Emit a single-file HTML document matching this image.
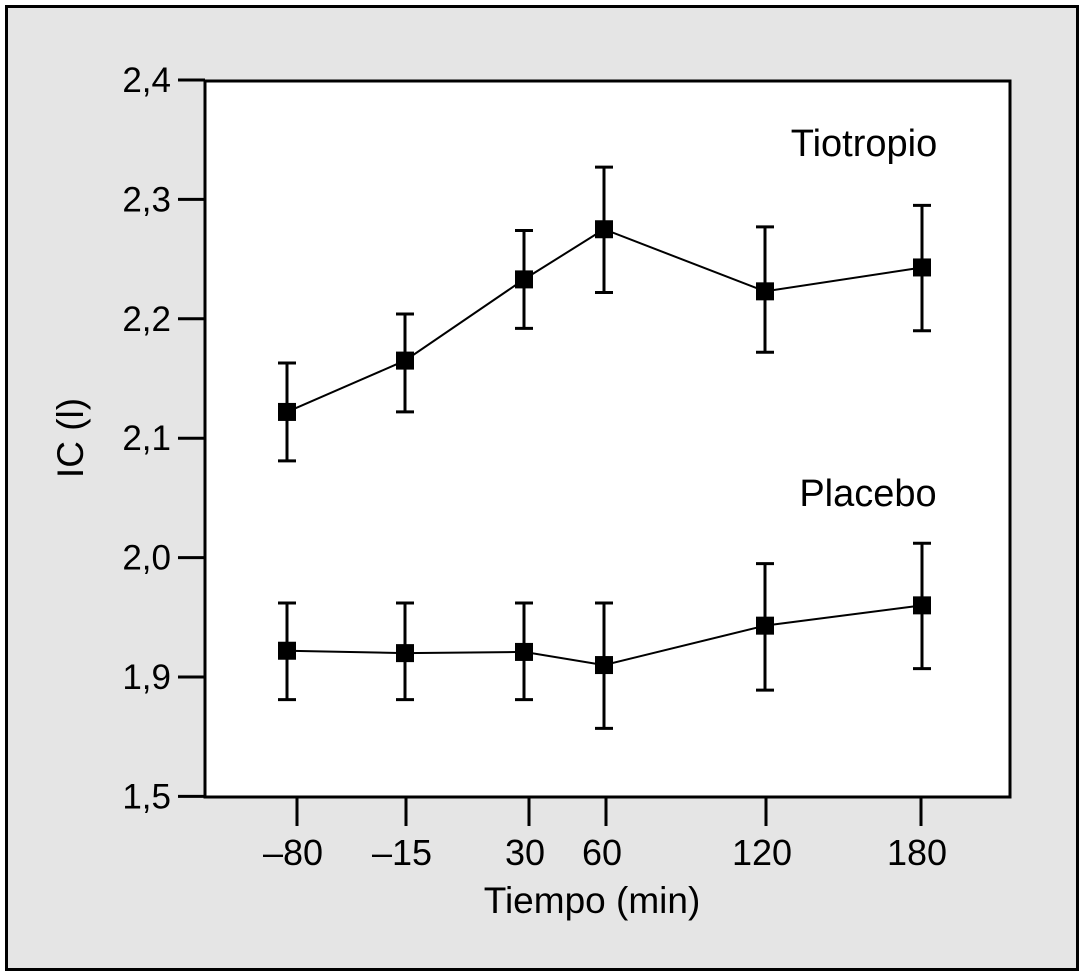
<!DOCTYPE html>
<html><head><meta charset="utf-8"><style>
body{margin:0;background:#fff;}
svg{display:block;font-family:"Liberation Sans",Arial,sans-serif;}
</style></head><body>
<svg id="chart" width="1089" height="977" viewBox="0 0 1089 977">
<rect x="6.5" y="6.5" width="1071" height="963" fill="#e5e5e5" stroke="#000" stroke-width="3"/>
<rect x="205" y="81" width="805" height="716" fill="#fff" stroke="#000" stroke-width="3"/>
<g id="axes"></g>
<g id="series"></g>
<text x="864" y="156" font-size="38" text-anchor="middle">Tiotropio</text>
<text x="868" y="506" font-size="38" text-anchor="middle">Placebo</text>
<text x="592" y="913" font-size="37" text-anchor="middle">Tiempo (min)</text>
<text x="0" y="0" font-size="37" text-anchor="middle" transform="translate(83,438) rotate(-90)">IC (l)</text>
</svg>
<script>
const xCategories=[-80,-15,30,60,120,180];
const xTickLabels=["\u201380","\u201315","30","60","120","180"];
const yTicks=[1.5,1.9,2.0,2.1,2.2,2.3,2.4];
const yTickLabels=["1,5","1,9","2,0","2,1","2,2","2,3","2,4"];
const tioMean=[2.122,2.165,2.233,2.275,2.223,2.243];
const tioUpper=[2.163,2.204,2.274,2.327,2.277,2.295];
const tioLower=[2.081,2.122,2.192,2.222,2.172,2.190];
const plaMean=[1.922,1.920,1.921,1.910,1.943,1.960];
const plaUpper=[1.962,1.962,1.962,1.962,1.995,2.012];
const plaLower=[1.881,1.881,1.881,1.857,1.889,1.907];

const NS="http://www.w3.org/2000/svg";
const xAnchorsV=[-80,-15,30,60,120,180], xAnchorsP=[287,405,524,604,765,922];
function xScale(v){
  for(let i=0;i<xAnchorsV.length-1;i++){
    if(v<=xAnchorsV[i+1]||i===xAnchorsV.length-2){
      const t=(v-xAnchorsV[i])/(xAnchorsV[i+1]-xAnchorsV[i]);
      return xAnchorsP[i]+t*(xAnchorsP[i+1]-xAnchorsP[i]);
    }
  }
}
function yScale(v){ if(v<1.8) v=1.8; return 677-(v-1.9)*1194; }
function mk(tag,attrs,parent){const e=document.createElementNS(NS,tag);for(const k in attrs)e.setAttribute(k,attrs[k]);parent.appendChild(e);return e;}
const axes=document.getElementById('axes');
yTicks.forEach((v,i)=>{
  const y=yScale(v);
  const l=mk('line',{x1:178,x2:205,y1:y,y2:y,stroke:'#000','stroke-width':3},axes);
  
  
  const t=mk('text',{x:171,y:y+12,'font-size':35,'text-anchor':'end'},axes);
  t.textContent=yTickLabels[i];
  
  
});
const xTickP=[297,406,529,606,766,921];
xCategories.forEach((v,i)=>{
  const x=xScale(v)+(xTickP[i]-xAnchorsP[i]);
  const l=mk('line',{x1:x,x2:x,y1:797,y2:826,stroke:'#000','stroke-width':3},axes);
  
  
  const t=mk('text',{x:x-4,y:865,'font-size':36,'text-anchor':'middle'},axes);
  t.textContent=xTickLabels[i];
  
  
});
const sg=document.getElementById('series');
function drawSeries(name,mean,up,lo){
  const g=mk('g',{},sg);
  
  
  const pts=xCategories.map((c,i)=>xScale(c)+','+yScale(mean[i])).join(' ');
  const pl=mk('polyline',{points:pts,fill:'none',stroke:'#000','stroke-width':2},g);
  
  
  xCategories.forEach((c,i)=>{
    const x=xScale(c),yu=yScale(up[i]),yl=yScale(lo[i]),ym=yScale(mean[i]);
    const e=mk('path',{d:`M${x},${yu}V${yl}M${x-9},${yu}H${x+9}M${x-9},${yl}H${x+9}`,stroke:'#000','stroke-width':3,fill:'none'},g);
    
    
    const m=mk('rect',{x:x-9,y:ym-9,width:18,height:18,fill:'#000'},g);
    
    
  });
}
drawSeries('tiotropio',tioMean,tioUpper,tioLower);
drawSeries('placebo',plaMean,plaUpper,plaLower);
</script>
</body></html>
